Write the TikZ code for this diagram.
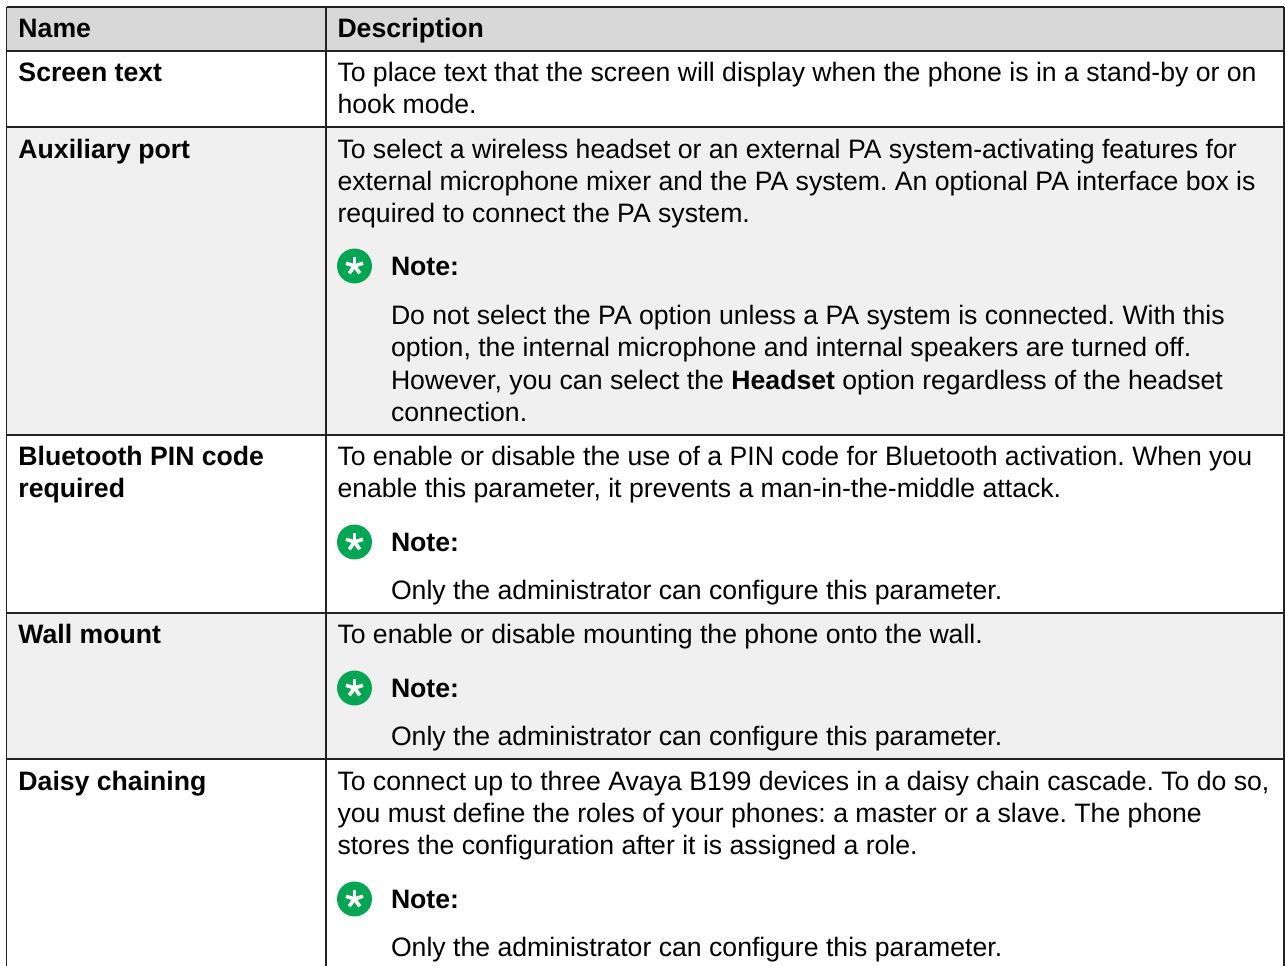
\documentclass[tikz,border=0pt]{standalone}
\usepackage{fontspec}
\setmainfont{Liberation Sans}
\frenchspacing
\definecolor{hdr}{HTML}{D8D8D8}
\definecolor{band}{HTML}{F0F0F0}
\definecolor{grn}{HTML}{00A651}
\definecolor{rule}{HTML}{222222}
\newcommand{\noteicon}[2]{%
  \node[noteball] (#1) at (354.5,#2) {};
  \foreach \a in {90,162,234,306,18}
    \draw[white,line width=2.7pt] (#1.center) -- ++(\a:-9);
}
\tikzset{
  x=0.75pt,y=-0.75pt,
  txt/.style={anchor=base west,inner sep=0pt,outer sep=0pt,font=\fontsize{19.97pt}{24pt}\selectfont,text=black},
  btxt/.style={txt,font=\fontsize{19.97pt}{24pt}\selectfont\bfseries},
  gridline/.style={draw=rule,line width=1.4pt},
  noteball/.style={circle,fill=grn,minimum size=26.2pt,inner sep=0pt,outer sep=0pt}
}
\begin{document}
\begin{tikzpicture}
\useasboundingbox (0,0) rectangle (1285,966);
\fill[white] (0,0) rectangle (1285,966);
\fill[hdr] (6.5,7) rectangle (1284,51);
\fill[band] (6.5,127) rectangle (1284,435);
\fill[band] (6.5,613) rectangle (1284,759);
\foreach \yy in {7,51,127,435,613,759} \draw[gridline] (6.5,\yy) -- (1284,\yy);
\foreach \xx in {6.5,326,1284} \draw[gridline] (\xx,7) -- (\xx,966);
% left column
\node[btxt] (n0) at (18.5,37.5) {Name};
\node[btxt] (n1) at (18.5,82) {Screen text};
\node[btxt] (n2) at (18.5,158.5) {Auxiliary port};
\node[btxt] (n3) at (18.5,465.5) {Bluetooth PIN code};
\node[btxt] (n3b) at (18.5,497.5) {required};
\node[btxt] (n4) at (18.5,643.5) {Wall mount};
\node[btxt] (n5) at (18.5,790) {Daisy chaining};
% right column
\node[btxt] (d0) at (337.5,37.5) {Description};
\node[txt] (d1) at (337.5,82) {To place text that the screen will display when the phone is in a stand-by or on};
\node[txt] (d1b) at (337.5,114) {hook mode.};
\node[txt] (d2) at (337.5,158.5) {To select a wireless headset or an external PA system-activating features for};
\node[txt] (d2b) at (337.5,190.5) {external microphone mixer and the PA system. An optional PA interface box is};
\node[txt] (d2c) at (337.5,223) {required to connect the PA system.};
\noteicon{i2}{266}
\node[btxt] (l2) at (391,276) {Note:};
\node[txt] (e2) at (391,325) {Do not select the PA option unless a PA system is connected. With this};
\node[txt] (e2b) at (391,356.5) {option, the internal microphone and internal speakers are turned off.};
\node[txt] (e2c) at (391,389) {However, you can select the \textbf{Headset} option regardless of the headset};
\node[txt] (e2d) at (391,421) {connection.};
\node[txt] (d3) at (337.5,465.5) {To enable or disable the use of a PIN code for Bluetooth activation. When you};
\node[txt] (d3b) at (337.5,497.5) {enable this parameter, it prevents a man-in-the-middle attack.};
\noteicon{i3}{542}
\node[btxt] (l3) at (391,551) {Note:};
\node[txt] (e3) at (391,599.5) {Only the administrator can configure this parameter.};
\node[txt] (d4) at (337.5,643.5) {To enable or disable mounting the phone onto the wall.};
\noteicon{i4}{688}
\node[btxt] (l4) at (391,697) {Note:};
\node[txt] (e4) at (391,745.5) {Only the administrator can configure this parameter.};
\node[txt] (d5) at (337.5,790) {To connect up to three Avaya B199 devices in a daisy chain cascade. To do so,};
\node[txt] (d5b) at (337.5,822) {you must define the roles of your phones: a master or a slave. The phone};
\node[txt] (d5c) at (337.5,854.5) {stores the configuration after it is assigned a role.};
\noteicon{i5}{899}
\node[btxt] (l5) at (391,908) {Note:};
\node[txt] (e5) at (391,956.5) {Only the administrator can configure this parameter.};
\end{tikzpicture}
\end{document}
